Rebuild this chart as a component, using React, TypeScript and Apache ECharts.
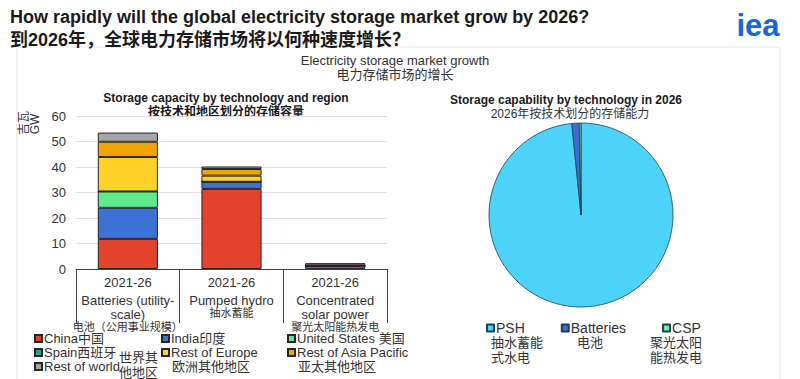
import React, { useEffect, useRef } from "react";
import * as echarts from "echarts";

const FONT = '"Liberation Sans", Arial, "Noto Sans CJK SC", sans-serif';

// Bar chart data (GW)
const barYears = ["2021-26", "2021-26", "2021-26"];
const barCategoriesEn = [["Batteries (utility-", "scale)"], ["Pumped hydro"], ["Concentrated", "solar power"]];
const barCategoriesCn = ["电池（公用事业规模）", "抽水蓄能", "聚光太阳能热发电"];
const regionNames = [
  "China中国",
  "India印度",
  "United States 美国",
  "Spain西班牙",
  "Rest of Europe",
  "Rest of Asia Pacific",
  "Rest of world",
];
const china = [11.8, 31.4, 1.2];
const india = [12.2, 2.8, 0];
const unitedStates = [6.4, 0, 0];
const spain = [0, 0, 0.2];
const restOfEurope = [13.5, 2.4, 0];
const restOfAsiaPacific = [6.0, 2.6, 0];
const restOfWorld = [3.6, 1.0, 0.9];
const regionColors = ["#E2432A", "#3C71D6", "#5EEB8E", "#2AA58C", "#FDD125", "#F0A500", "#A6A6A6"];
const yTicks = { min: 0, max: 60, interval: 10 };

// Pie data (share of storage capability, %)
const pieNames = ["PSH", "Batteries", "CSP"];
const pieNamesCn = ["抽水蓄能\n式水电", "电池", "聚光太阳\n能热发电"];
const pieValues = [98.4, 1.3, 0.3];
const pieColors = ["#4DD3FA", "#3A6FD1", "#79E59B"];

export default function App() {
  const ref = useRef<HTMLDivElement>(null);
  useEffect(() => {
    if (!ref.current) return;
    const chart = echarts.init(ref.current, undefined, { renderer: "svg" });
    const regionData = [china, india, unitedStates, spain, restOfEurope, restOfAsiaPacific, restOfWorld];

    const barSeries = regionNames.map((name, i) => ({
      type: "bar",
      name,
      stack: "total",
      data: regionData[i],
      barWidth: "58%",
      itemStyle: { color: regionColors[i], borderColor: "#262626", borderWidth: 1 },
      emphasis: { disabled: true },
    }));

    const legendBase = {
      orient: "vertical",
      itemWidth: 7,
      itemHeight: 7,
      itemGap: 1,
      icon: "rect",
      textStyle: { fontFamily: FONT, fontSize: 13, color: "#333", lineHeight: 13, padding: [0, 0, 0, -3] },
      selectedMode: false,
      padding: 0,
    };

    chart.setOption({
      animation: false,
      textStyle: { fontFamily: FONT },
      grid: { left: 76, right: 413, top: 116, bottom: 110 },
      xAxis: {
        type: "category",
        data: barCategoriesEn.map((_, i) => i),
        axisLine: { lineStyle: { color: "#404040", width: 1 } },
        axisTick: { show: true, length: 54, lineStyle: { color: "#404040" } },
        axisLabel: {
          interval: 0,
          margin: 2,
          formatter: (v: string) => {
            const i = Number(v);
            const en = barCategoriesEn[i].map((l) => `{e|${l}}`).join("\n");
            return `{y|${barYears[i]}}\n${en}\n{c|${barCategoriesCn[i]}}`;
          },
          rich: {
            y: { fontFamily: FONT, fontSize: 13, color: "#333", lineHeight: 22 },
            e: { fontFamily: FONT, fontSize: 13, color: "#333", lineHeight: 14 },
            c: { fontFamily: FONT, fontSize: 11, color: "#333", lineHeight: 11 },
          },
        },
      },
      yAxis: {
        type: "value",
        min: yTicks.min,
        max: yTicks.max,
        interval: yTicks.interval,
        axisLine: { show: false },
        axisTick: { show: false },
        axisLabel: { fontFamily: FONT, fontSize: 13, color: "#333", margin: 10 },
        splitLine: { lineStyle: { color: "#E0E0E0" } },
      },
      legend: [
        { ...legendBase, left: 34, top: 332, data: [regionNames[0], regionNames[3], regionNames[6]] },
        { ...legendBase, left: 161, top: 332, data: [regionNames[1], regionNames[4]] },
        { ...legendBase, left: 287, top: 332, data: [regionNames[2], regionNames[5]] },
        {
          ...legendBase,
          orient: "horizontal",
          left: 486,
          top: 321,
          itemGap: 36,
          textStyle: { fontFamily: FONT, fontSize: 14, color: "#333", padding: [0, 0, 0, -3] },
          data: pieNames,
        },
      ],
      series: [
        ...barSeries,
        {
          type: "pie",
          center: [581, 215],
          radius: 92,
          startAngle: 90,
          clockwise: true,
          label: { show: false },
          labelLine: { show: false },
          emphasis: { disabled: true },
          itemStyle: { borderColor: "#1D3F57", borderWidth: 0.8 },
          data: pieNames.map((n, i) => ({ name: n, value: pieValues[i], itemStyle: { color: pieColors[i] } })),
        },
      ],
      graphic: [
        {
          type: "rect",
          shape: { x: 17, y: 47, width: 763, height: 345, r: 3 },
          style: { fill: "none", stroke: "#E6E6E6", lineWidth: 1 },
          silent: true,
        },
        {
          type: "text",
          x: 10,
          y: 17,
          style: {
            text: "How rapidly will the global electricity storage market grow by 2026?",
            font: `bold 18px ${FONT}`,
            fill: "#1a1a1a",
            verticalAlign: "middle",
          },
        },
        {
          type: "text",
          x: 10,
          y: 40,
          style: {
            text: "到2026年，全球电力存储市场将以何种速度增长？",
            font: `bold 18px ${FONT}`,
            fill: "#1a1a1a",
            verticalAlign: "middle",
          },
        },
        {
          type: "text",
          x: 758,
          y: 25,
          style: {
            text: "iea",
            font: `bold 31px ${FONT}`,
            fill: "#1A66D9",
            align: "center",
            verticalAlign: "middle",
          },
        },
        {
          type: "text",
          x: 395,
          y: 60,
          style: { text: "Electricity storage market growth", font: `13px ${FONT}`, fill: "#333", align: "center", verticalAlign: "middle" },
        },
        {
          type: "text",
          x: 395,
          y: 74,
          style: { text: "电力存储市场的增长", font: `13px ${FONT}`, fill: "#333", align: "center", verticalAlign: "middle" },
        },
        {
          type: "text",
          x: 226,
          y: 98,
          style: { text: "Storage capacity by technology and region", font: `bold 12px ${FONT}`, fill: "#1a1a1a", align: "center", verticalAlign: "middle" },
        },
        {
          type: "text",
          x: 226,
          y: 112,
          style: { text: "按技术和地区划分的存储容量", font: `bold 12px ${FONT}`, fill: "#1a1a1a", align: "center", verticalAlign: "middle" },
        },
        {
          type: "text",
          x: 566,
          y: 100,
          style: { text: "Storage capability by technology in 2026", font: `bold 12px ${FONT}`, fill: "#1a1a1a", align: "center", verticalAlign: "middle" },
        },
        {
          type: "text",
          x: 570,
          y: 114,
          style: { text: "2026年按技术划分的存储能力", font: `12px ${FONT}`, fill: "#333", align: "center", verticalAlign: "middle" },
        },
        {
          type: "text",
          x: 24,
          y: 123,
          rotation: Math.PI / 2,
          style: { text: "吉瓦", font: `12px ${FONT}`, fill: "#333", align: "center", verticalAlign: "middle" },
        },
        {
          type: "text",
          x: 35,
          y: 124,
          rotation: Math.PI / 2,
          style: { text: "GW", font: `12px ${FONT}`, fill: "#333", align: "center", verticalAlign: "middle" },
        },
        {
          type: "text",
          x: 119,
          y: 350,
          style: { text: "世界其\n他地区", font: `13px ${FONT}`, fill: "#333", lineHeight: 15, verticalAlign: "top" },
        },
        {
          type: "text",
          x: 172,
          y: 366,
          style: { text: "欧洲其他地区", font: `13px ${FONT}`, fill: "#333", verticalAlign: "middle" },
        },
        {
          type: "text",
          x: 298,
          y: 366,
          style: { text: "亚太其他地区", font: `13px ${FONT}`, fill: "#333", verticalAlign: "middle" },
        },
        {
          type: "text",
          x: 491,
          y: 335,
          style: { text: pieNamesCn[0], font: `13px ${FONT}`, fill: "#333", lineHeight: 15 },
        },
        {
          type: "text",
          x: 590,
          y: 335,
          style: { text: pieNamesCn[1], font: `13px ${FONT}`, fill: "#333", lineHeight: 15, align: "center" },
        },
        {
          type: "text",
          x: 650,
          y: 335,
          style: { text: pieNamesCn[2], font: `13px ${FONT}`, fill: "#333", lineHeight: 15 },
        },
      ],
    });
    return () => chart.dispose();
  }, []);
  return <div ref={ref} style={{ position: "fixed", left: 0, top: 0, width: 800, height: 379, background: "#fff" }} />;
}
